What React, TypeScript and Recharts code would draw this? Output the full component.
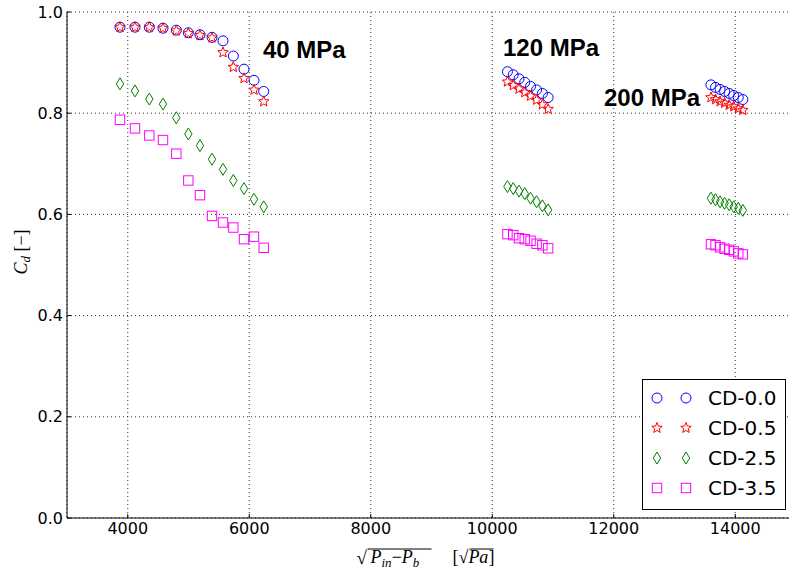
import React from 'react';
import { ScatterChart, Scatter, XAxis, YAxis, CartesianGrid, Legend, ReferenceDot } from 'recharts';

// sqrt(Pin - Pb) positions of each pressure group
const x40 = [3872, 4119, 4355, 4580, 4799, 4997, 5189, 5387, 5568, 5738, 5914, 6078, 6238];
const x120 = [10250, 10345, 10440, 10535, 10630, 10730, 10825, 10920];
const x200 = [13600, 13675, 13750, 13825, 13900, 13975, 14050, 14125];

// Cd readings per nozzle
const cd00 = [
  0.970, 0.970, 0.970, 0.968, 0.964, 0.959, 0.955, 0.950, 0.943, 0.913, 0.887, 0.865, 0.843,
  0.882, 0.876, 0.868, 0.861, 0.853, 0.846, 0.839, 0.831,
  0.856, 0.851, 0.847, 0.843, 0.839, 0.835, 0.831, 0.827,
];
const cd05 = [
  0.970, 0.970, 0.970, 0.968, 0.963, 0.958, 0.954, 0.949, 0.920, 0.891, 0.869, 0.846, 0.823,
  0.862, 0.855, 0.848, 0.841, 0.834, 0.826, 0.817, 0.808,
  0.831, 0.827, 0.823, 0.820, 0.816, 0.813, 0.809, 0.806,
];
const cd25 = [
  0.858, 0.844, 0.828, 0.818, 0.791, 0.759, 0.736, 0.709, 0.689, 0.667, 0.651, 0.630, 0.615,
  0.655, 0.651, 0.646, 0.641, 0.632, 0.625, 0.617, 0.609,
  0.632, 0.629, 0.625, 0.622, 0.619, 0.615, 0.612, 0.608,
];
const cd35 = [
  0.787, 0.770, 0.756, 0.747, 0.720, 0.667, 0.638, 0.597, 0.584, 0.574, 0.551, 0.556, 0.534,
  0.561, 0.559, 0.553, 0.551, 0.548, 0.542, 0.539, 0.533,
  0.541, 0.539, 0.535, 0.532, 0.530, 0.527, 0.523, 0.521,
];

const xTicks = [4000, 6000, 8000, 10000, 12000, 14000];
const yTicks = [0, 0.2, 0.4, 0.6, 0.8, 1.0];

const annotations = [
  { label: '40 MPa', x: 6226, y: 0.925 },
  { label: '120 MPa', x: 10177, y: 0.929 },
  { label: '200 MPa', x: 11840, y: 0.832 },
];

const allX = [...x40, ...x120, ...x200];
const toPoints = (ys: number[]) => ys.map((y, i) => ({ x: allX[i], y }));

type Kind = 'circle' | 'star' | 'diamond' | 'square';

function Marker({ cx, cy, kind, color }: { cx: number; cy: number; kind: Kind; color: string }) {
  if (cx == null || cy == null) return null;
  const common = { fill: 'none', stroke: color, strokeWidth: 1 };
  if (kind === 'circle') return <circle cx={cx} cy={cy} r={5} {...common} />;
  if (kind === 'square') return <rect x={cx - 4.7} y={cy - 4.7} width={9.4} height={9.4} {...common} />;
  if (kind === 'diamond') {
    return <polygon points={`${cx},${cy - 6} ${cx + 3.7},${cy} ${cx},${cy + 6} ${cx - 3.7},${cy}`} {...common} />;
  }
  const pts: string[] = [];
  for (let i = 0; i < 10; i++) {
    const r = i % 2 ? 2.4 : 5.5;
    const a = -Math.PI / 2 + (i * Math.PI) / 5;
    pts.push(`${cx + r * Math.cos(a)},${cy + r * Math.sin(a)}`);
  }
  return <polygon points={pts.join(' ')} {...common} />;
}

const series = [
  { name: 'CD-0.0', data: toPoints(cd00), kind: 'circle' as Kind, color: '#0000ff' },
  { name: 'CD-0.5', data: toPoints(cd05), kind: 'star' as Kind, color: '#ff0000' },
  { name: 'CD-2.5', data: toPoints(cd25), kind: 'diamond' as Kind, color: '#008000' },
  { name: 'CD-3.5', data: toPoints(cd35), kind: 'square' as Kind, color: '#ff00ff' },
];

function LegendBox() {
  return (
    <div
      style={{
        width: 142,
        height: 126,
        border: '1.5px solid #000',
        background: '#fff',
        boxSizing: 'content-box',
        paddingTop: 3,
      }}
    >
      {series.map((s) => (
        <div key={s.name} style={{ height: 30, display: 'flex', alignItems: 'center' }}>
          <svg width={60} height={30} style={{ flex: 'none' }}>
            <Marker cx={14} cy={15} kind={s.kind} color={s.color} />
            <Marker cx={43} cy={15} kind={s.kind} color={s.color} />
          </svg>
          <span style={{ fontFamily: 'DejaVu Sans', fontSize: 20, marginLeft: 5, color: '#000' }}>{s.name}</span>
        </div>
      ))}
    </div>
  );
}

function XLabel(props: any) {
  const vb = props.viewBox || { x: 67, y: 518, width: 729, height: 60 };
  const cx = vb.x + vb.width / 2;
  const base = vb.y + 45;
  return (
    <g fontFamily="Liberation Serif" fill="#000">
      <text x={cx - 75} y={base + 1} fontSize={19}>√</text>
      <line x1={cx - 64} x2={cx + 0} y1={base - 14} y2={base - 14} stroke="#000" strokeWidth={1} />
      <text x={cx - 61} y={base} fontSize={18} fontStyle="italic">
        P<tspan fontSize={13} dy={4}>in</tspan>
        <tspan dy={-4} fontStyle="normal">−</tspan>P<tspan fontSize={13} dy={4}>b</tspan>
      </text>
      <text x={cx + 21} y={base} fontSize={18}>
        [√<tspan fontStyle="italic">Pa</tspan>]
      </text>
      <line x1={cx + 38} x2={cx + 62} y1={base - 14} y2={base - 14} stroke="#000" strokeWidth={1} />
    </g>
  );
}

function YLabel(props: any) {
  const vb = props.viewBox || { x: 7, y: 12, width: 60, height: 506 };
  const x = vb.x + 14;
  const y = vb.y + vb.height / 2 - 13;
  return (
    <text
      x={x}
      y={y}
      transform={`rotate(-90, ${x}, ${y})`}
      textAnchor="middle"
      dominantBaseline="central"
      fontFamily="Liberation Serif"
      fontSize={18}
      fill="#000"
    >
      <tspan fontStyle="italic">C</tspan>
      <tspan fontStyle="italic" fontSize={13} dy={4}>d</tspan>
      <tspan dy={-4}>{'    [−]'}</tspan>
    </text>
  );
}

export default function App() {
  return (
    <div style={{ position: 'absolute', left: 0, top: 0, width: 789, height: 578, overflow: 'hidden', background: '#fff' }}>
      <ScatterChart width={800} height={578} margin={{ top: 12, right: 4, bottom: 0, left: 7 }}>
        <CartesianGrid stroke="#000" strokeDasharray="1 3" strokeWidth={0.8} />
        <XAxis
          dataKey="x"
          type="number"
          domain={[3000, 15000]}
          ticks={xTicks}
          height={60}
          tickSize={-4}
          tickMargin={9}
          axisLine={{ stroke: '#000' }}
          tickLine={{ stroke: '#000' }}
          tick={{ fill: '#000', fontSize: 16, fontFamily: 'DejaVu Sans' }}
          allowDataOverflow
          label={{ content: (p: any) => <XLabel {...p} /> }}
        />
        <XAxis
          xAxisId="top"
          orientation="top"
          type="number"
          domain={[3000, 15000]}
          ticks={xTicks}
          height={0}
          tickSize={-4}
          tick={false}
          axisLine={{ stroke: '#000' }}
          tickLine={{ stroke: '#000' }}
          allowDataOverflow
        />
        <YAxis
          dataKey="y"
          type="number"
          domain={[0, 1]}
          ticks={yTicks}
          width={60}
          tickSize={-4}
          tickMargin={8}
          tickFormatter={(v: number) => v.toFixed(1)}
          axisLine={{ stroke: '#000' }}
          tickLine={{ stroke: '#000' }}
          tick={{ fill: '#000', fontSize: 16, fontFamily: 'DejaVu Sans' }}
          allowDataOverflow
          label={{ content: (p: any) => <YLabel {...p} /> }}
        />
        {series.map((s) => (
          <Scatter
            key={s.name}
            name={s.name}
            data={s.data}
            isAnimationActive={false}
            shape={(p: any) => <Marker cx={p.cx} cy={p.cy} kind={s.kind} color={s.color} />}
          />
        ))}
        {annotations.map((a) => (
          <ReferenceDot
            key={a.label}
            x={a.x}
            y={a.y}
            r={0}
            ifOverflow="visible"
            shape={(p: any) => (
              <text
                x={p.cx}
                y={p.cy}
                dominantBaseline="central"
                fontFamily="Liberation Sans"
                fontWeight="bold"
                fontSize={24}
                fill="#000"
              >
                {a.label}
              </text>
            )}
          />
        ))}
        <Legend
          layout="horizontal"
          verticalAlign="middle"
          align="center"
          wrapperStyle={{ left: 642, top: 379, width: 145, height: 130 }}
          content={() => <LegendBox />}
        />
      </ScatterChart>
    </div>
  );
}
